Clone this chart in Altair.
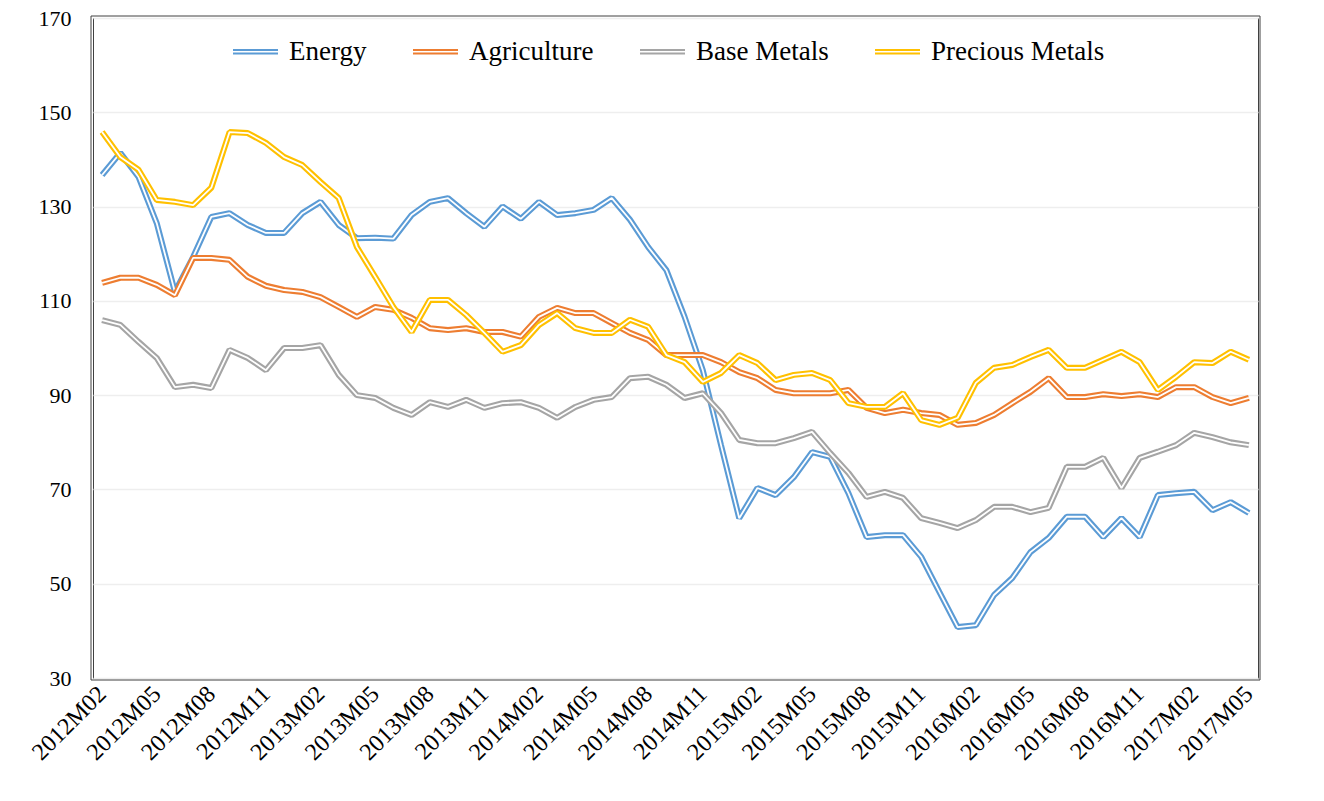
import altair as alt
import pandas as pd

# Monthly categories 2012M02 .. 2017M05
all_months = [f"{y}M{m:02d}" for y in range(2012, 2018) for m in range(1, 13)]
months = all_months[all_months.index("2012M02"): all_months.index("2017M05") + 1]
tick_months = months[::3]

energy = [136.7, 141.4, 136.3, 126.5, 111.9, 119.3, 127.8, 128.6, 126.1, 124.4,
          124.4, 128.6, 131.0, 126.1, 123.3, 123.4, 123.2, 128.2, 131.0, 131.8,
          128.6, 125.7, 130.0, 127.4, 131.0, 128.2, 128.6, 129.3, 131.8, 127.2,
          121.4, 116.5, 106.6, 95.3, 79.4, 63.9, 70.3, 68.8, 72.6, 77.9,
          76.9, 69.2, 59.9, 60.3, 60.3, 55.7, 48.2, 40.8, 41.2, 47.6,
          51.2, 56.7, 59.7, 64.2, 64.2, 59.9, 63.9, 59.9, 68.8, 69.2,
          69.5, 65.6, 67.3, 65.0]
agriculture = [113.8, 114.9, 114.9, 113.4, 111.2, 119.1, 119.1, 118.7, 115.1, 113.2,
               112.3, 111.9, 110.8, 108.7, 106.6, 108.7, 108.1, 106.4, 104.2, 103.8,
               104.2, 103.4, 103.4, 102.4, 106.6, 108.5, 107.4, 107.4, 105.3, 103.2,
               101.7, 98.5, 98.5, 98.5, 97.0, 94.9, 93.6, 91.1, 90.4, 90.4,
               90.4, 91.1, 87.3, 86.2, 86.9, 86.2, 85.8, 83.7, 84.1, 85.8,
               88.3, 90.7, 93.6, 89.6, 89.6, 90.2, 89.8, 90.2, 89.6, 91.7,
               91.7, 89.6, 88.3, 89.4]
base_metals = [105.9, 104.9, 101.3, 97.9, 91.7, 92.2, 91.5, 99.6, 97.9, 95.3,
               100.0, 100.0, 100.6, 94.3, 90.0, 89.4, 87.3, 85.8, 88.5, 87.5,
               89.0, 87.3, 88.3, 88.5, 87.3, 85.2, 87.5, 89.0, 89.6, 93.6,
               93.9, 92.2, 89.4, 90.4, 86.2, 80.5, 79.8, 79.8, 80.9, 82.2,
               77.7, 73.5, 68.4, 69.5, 68.2, 63.9, 62.9, 61.8, 63.5, 66.3,
               66.3, 65.2, 66.1, 74.8, 74.8, 76.7, 70.3, 76.7, 78.0, 79.4,
               82.0, 81.1, 80.0, 79.4]
precious_metals = [145.8, 140.5, 137.8, 131.4, 131.0, 130.3, 134.0, 145.8, 145.6, 143.5,
                   140.5, 138.8, 135.2, 131.8, 121.4, 115.1, 108.7, 103.4, 110.2, 110.2,
                   107.0, 103.2, 99.2, 100.6, 104.9, 107.4, 104.2, 103.2, 103.2, 106.0,
                   104.5, 98.5, 97.0, 92.8, 94.7, 98.5, 96.8, 93.2, 94.3, 94.7,
                   93.2, 88.3, 87.5, 87.5, 90.4, 84.7, 83.7, 85.2, 92.6, 95.8,
                   96.4, 98.1, 99.6, 95.8, 95.8, 97.5, 99.2, 97.0, 91.1, 93.9,
                   97.0, 96.8, 99.2, 97.5]

series_names = ["Energy", "Agriculture", "Base Metals", "Precious Metals"]
series_colors = ["#5B9BD5", "#ED7D31", "#A5A5A5", "#FFC000"]
y_ticks = [30, 50, 70, 90, 110, 130, 150, 170]

rows = []
for name, vals in zip(series_names, [energy, agriculture, base_metals, precious_metals]):
    for m, v in zip(months, vals):
        rows.append({"month": m, "series": name, "value": v})
df = pd.DataFrame(rows)

W, H = 1165, 660
FONT = "Liberation Serif"

x = alt.X("month:O",
          scale=alt.Scale(domain=months, type="point", padding=0.5),
          axis=alt.Axis(values=tick_months, labelAngle=-45, labelAlign="right",
                        labelBaseline="middle", labelFont=FONT, labelFontSize=24,
                        labelColor="black", ticks=False, domain=False, grid=False,
                        labelPadding=12, title=None, labelOverlap=False))
y = alt.Y("value:Q",
          scale=alt.Scale(domain=[30, 170], nice=False, zero=False),
          axis=alt.Axis(values=y_ticks, grid=True, gridColor="#EEEEEE", gridWidth=1.5,
                        ticks=False, domain=False, labelFont=FONT, labelFontSize=22,
                        labelColor="black", labelPadding=22, title=None))
color = alt.Color("series:N",
                  scale=alt.Scale(domain=series_names, range=series_colors),
                  legend=alt.Legend(orient="none", legendX=139, legendY=10,
                                    direction="horizontal", title=None,
                                    symbolType="M-1,-0.08H1M-1,0.08H1",
                                    symbolSize=2025, symbolStrokeWidth=2,
                                    labelFont=FONT, labelFontSize=27, labelColor="black",
                                    labelOffset=10, columnPadding=42, padding=0,
                                    labelLimit=0))

layers = []
for name in series_names:
    base = alt.Chart(df).transform_filter(alt.datum.series == name)
    layers.append(base.mark_line(strokeWidth=6, strokeJoin="bevel").encode(x=x, y=y, color=color))
    layers.append(base.mark_line(strokeWidth=1.8, color="white", strokeJoin="bevel").encode(x=x, y=y))

frame = alt.Chart(alt.Data(values=[{}])).mark_rect(
    filled=False, stroke="#404040", strokeWidth=1
).encode(x=alt.value(-2), x2=alt.value(W + 2), y=alt.value(-2), y2=alt.value(H + 2))
layers.append(frame)

chart = alt.layer(*layers).properties(
    width=W, height=H,
    autosize=alt.AutoSizeParams(type="none"),
    padding={"left": 85, "top": 10, "right": 50, "bottom": 115},
).configure_view(stroke="#404040", strokeWidth=1)

chart.save("out.html", embed_options={"renderer": "svg", "actions": False})
